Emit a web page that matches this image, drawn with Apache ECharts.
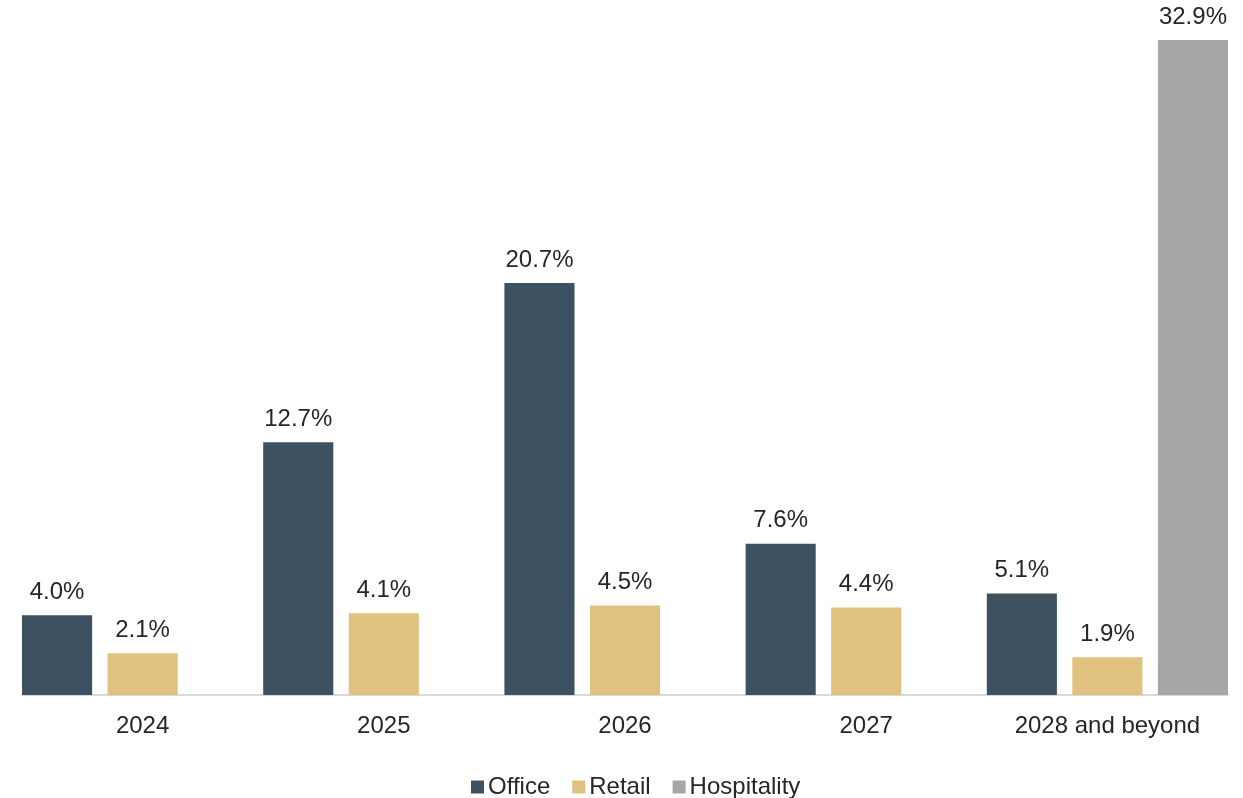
<!DOCTYPE html>
<html>
<head>
<meta charset="utf-8">
<script src="https://cdn.jsdelivr.net/npm/echarts@6/dist/echarts.min.js"></script>
<style>html,body{margin:0;padding:0;background:#fff}#c{width:1243px;height:798px}</style>
</head>
<body>
<div id="c"></div>
<script>
const categories = ["2024", "2025", "2026", "2027", "2028 and beyond"];
const office = [4.0, 12.7, 20.7, 7.6, 5.1];
const retail = [2.1, 4.1, 4.5, 4.4, 1.9];
const hospitality = [null, null, null, null, 32.9];
const seriesNames = ["Office", "Retail", "Hospitality"];
const colors = ["#3d5161", "#e0c17f", "#a6a6a6"];

const font = "'Liberation Sans', Arial, sans-serif";
const chart = echarts.init(document.getElementById('c'));
const label = {
  show: true, position: 'top', distance: 11,
  fontFamily: font, fontSize: 24, color: '#262626',
  formatter: p => p.value == null ? '' : Number(p.value).toFixed(1) + '%'
};
chart.setOption({
  animation: false,
  color: colors,
  grid: { left: 22, right: 15, top: 40, bottom: 103, containLabel: false },
  legend: {
    top: 770, left: 466,
    itemWidth: 13, itemHeight: 13, itemGap: 22,
    icon: 'rect',
    textStyle: { fontFamily: font, fontSize: 24, color: '#262626', padding: [0, 0, 0, -1] },
    data: seriesNames
  },
  xAxis: {
    type: 'category', data: categories,
    axisLine: { show: true, lineStyle: { color: '#d9d9d9', width: 2 } },
    axisTick: { show: false },
    axisLabel: { fontFamily: font, fontSize: 24, color: '#262626', margin: 19 }
  },
  yAxis: {
    type: 'value', min: 0, max: 32.9, show: false,
    splitLine: { show: false }
  },
  series: [
    { name: seriesNames[0], type: 'bar', data: office, barGap: '22%', barCategoryGap: 0, label },
    { name: seriesNames[1], type: 'bar', data: retail, barGap: '22%', barCategoryGap: 0, label },
    { name: seriesNames[2], type: 'bar', data: hospitality, barGap: '22%', barCategoryGap: 0, label }
  ]
});
</script>
</body>
</html>
